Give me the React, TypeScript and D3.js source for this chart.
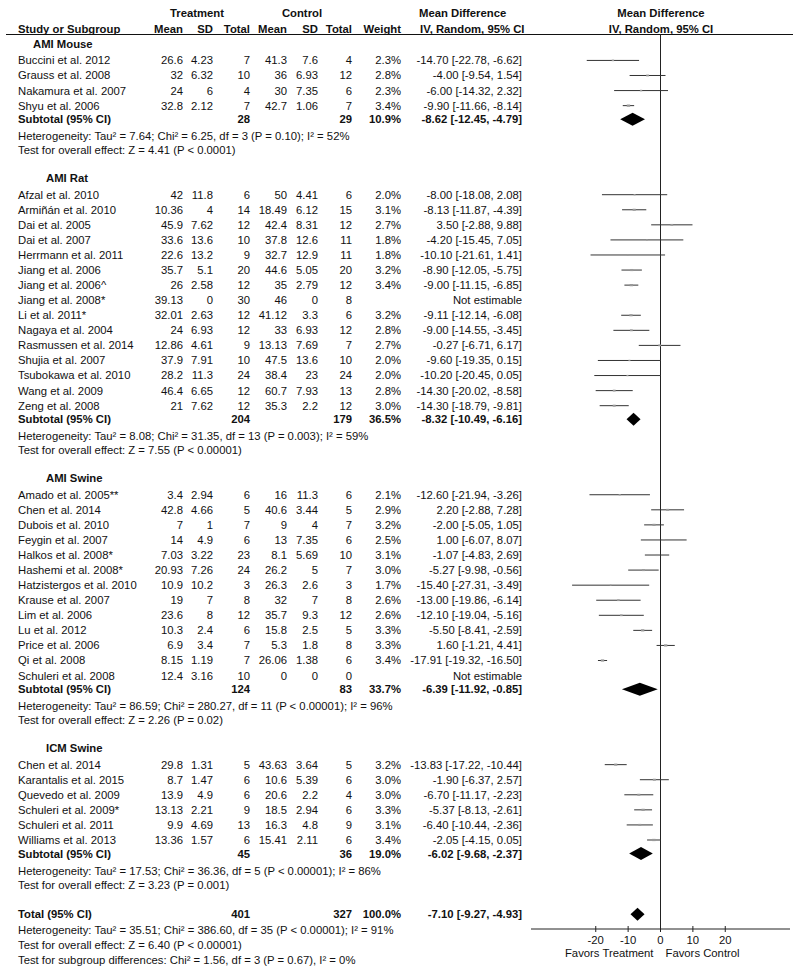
import React from 'react';
import * as d3 from 'd3';

// [study, treatment mean, sd, total, control mean, sd, total, weight %, md, lower, upper]
type Study = [string, number, number, number, number, number, number, number | null, number | null, number | null, number | null];
type Sub = [number, number, number, number, number, number];

const groupNames = ['AMI Mouse', 'AMI Rat', 'AMI Swine', 'ICM Swine'];

const amiMouse: Study[] = [
  ['Buccini et al. 2012', 26.6, 4.23, 7, 41.3, 7.6, 4, 2.3, -14.7, -22.78, -6.62],
  ['Grauss et al. 2008', 32, 6.32, 10, 36, 6.93, 12, 2.8, -4.0, -9.54, 1.54],
  ['Nakamura et al. 2007', 24, 6, 4, 30, 7.35, 6, 2.3, -6.0, -14.32, 2.32],
  ['Shyu et al. 2006', 32.8, 2.12, 7, 42.7, 1.06, 7, 3.4, -9.9, -11.66, -8.14],
];

const amiRat: Study[] = [
  ['Afzal et al. 2010', 42, 11.8, 6, 50, 4.41, 6, 2.0, -8.0, -18.08, 2.08],
  ['Armiñán et al. 2010', 10.36, 4, 14, 18.49, 6.12, 15, 3.1, -8.13, -11.87, -4.39],
  ['Dai et al. 2005', 45.9, 7.62, 12, 42.4, 8.31, 12, 2.7, 3.5, -2.88, 9.88],
  ['Dai et al. 2007', 33.6, 13.6, 10, 37.8, 12.6, 11, 1.8, -4.2, -15.45, 7.05],
  ['Herrmann et al. 2011', 22.6, 13.2, 9, 32.7, 12.9, 11, 1.8, -10.1, -21.61, 1.41],
  ['Jiang et al. 2006', 35.7, 5.1, 20, 44.6, 5.05, 20, 3.2, -8.9, -12.05, -5.75],
  ['Jiang et al. 2006^', 26, 2.58, 12, 35, 2.79, 12, 3.4, -9.0, -11.15, -6.85],
  ['Jiang et al. 2008*', 39.13, 0, 30, 46, 0, 8, null, null, null, null],
  ['Li et al. 2011*', 32.01, 2.63, 12, 41.12, 3.3, 6, 3.2, -9.11, -12.14, -6.08],
  ['Nagaya et al. 2004', 24, 6.93, 12, 33, 6.93, 12, 2.8, -9.0, -14.55, -3.45],
  ['Rasmussen et al. 2014', 12.86, 4.61, 9, 13.13, 7.69, 7, 2.7, -0.27, -6.71, 6.17],
  ['Shujia et al. 2007', 37.9, 7.91, 10, 47.5, 13.6, 10, 2.0, -9.6, -19.35, 0.15],
  ['Tsubokawa et al. 2010', 28.2, 11.3, 24, 38.4, 23, 24, 2.0, -10.2, -20.45, 0.05],
  ['Wang et al. 2009', 46.4, 6.65, 12, 60.7, 7.93, 13, 2.8, -14.3, -20.02, -8.58],
  ['Zeng et al. 2008', 21, 7.62, 12, 35.3, 2.2, 12, 3.0, -14.3, -18.79, -9.81],
];

const amiSwine: Study[] = [
  ['Amado et al. 2005**', 3.4, 2.94, 6, 16, 11.3, 6, 2.1, -12.6, -21.94, -3.26],
  ['Chen et al. 2014', 42.8, 4.66, 5, 40.6, 3.44, 5, 2.9, 2.2, -2.88, 7.28],
  ['Dubois et al. 2010', 7, 1, 7, 9, 4, 7, 3.2, -2.0, -5.05, 1.05],
  ['Feygin et al. 2007', 14, 4.9, 6, 13, 7.35, 6, 2.5, 1.0, -6.07, 8.07],
  ['Halkos et al. 2008*', 7.03, 3.22, 23, 8.1, 5.69, 10, 3.1, -1.07, -4.83, 2.69],
  ['Hashemi et al. 2008*', 20.93, 7.26, 24, 26.2, 5, 7, 3.0, -5.27, -9.98, -0.56],
  ['Hatzistergos et al. 2010', 10.9, 10.2, 3, 26.3, 2.6, 3, 1.7, -15.4, -27.31, -3.49],
  ['Krause et al. 2007', 19, 7, 8, 32, 7, 8, 2.6, -13.0, -19.86, -6.14],
  ['Lim et al. 2006', 23.6, 8, 12, 35.7, 9.3, 12, 2.6, -12.1, -19.04, -5.16],
  ['Lu et al. 2012', 10.3, 2.4, 6, 15.8, 2.5, 5, 3.3, -5.5, -8.41, -2.59],
  ['Price et al. 2006', 6.9, 3.4, 7, 5.3, 1.8, 8, 3.3, 1.6, -1.21, 4.41],
  ['Qi et al. 2008', 8.15, 1.19, 7, 26.06, 1.38, 6, 3.4, -17.91, -19.32, -16.5],
  ['Schuleri et al. 2008', 12.4, 3.16, 10, 0, 0, 0, null, null, null, null],
];

const icmSwine: Study[] = [
  ['Chen et al. 2014', 29.8, 1.31, 5, 43.63, 3.64, 5, 3.2, -13.83, -17.22, -10.44],
  ['Karantalis et al. 2015', 8.7, 1.47, 6, 10.6, 5.39, 6, 3.0, -1.9, -6.37, 2.57],
  ['Quevedo et al. 2009', 13.9, 4.9, 6, 20.6, 2.2, 4, 3.0, -6.7, -11.17, -2.23],
  ['Schuleri et al. 2009*', 13.13, 2.21, 9, 18.5, 2.94, 6, 3.3, -5.37, -8.13, -2.61],
  ['Schuleri et al. 2011', 9.9, 4.69, 13, 16.3, 4.8, 9, 3.1, -6.4, -10.44, -2.36],
  ['Williams et al. 2013', 13.36, 1.57, 6, 15.41, 2.11, 6, 3.4, -2.05, -4.15, 0.05],
];

const groupStudies = [amiMouse, amiRat, amiSwine, icmSwine];

// [treatment total, control total, weight, md, lower, upper]
const subtotals: Sub[] = [
  [28, 29, 10.9, -8.62, -12.45, -4.79],
  [204, 179, 36.5, -8.32, -10.49, -6.16],
  [124, 83, 33.7, -6.39, -11.92, -0.85],
  [45, 36, 19.0, -6.02, -9.68, -2.37],
];

const heterogeneity = [
  'Heterogeneity: Tau² = 7.64; Chi² = 6.25, df = 3 (P = 0.10); I² = 52%',
  'Heterogeneity: Tau² = 8.08; Chi² = 31.35, df = 13 (P = 0.003); I² = 59%',
  'Heterogeneity: Tau² = 86.59; Chi² = 280.27, df = 11 (P < 0.00001); I² = 96%',
  'Heterogeneity: Tau² = 17.53; Chi² = 36.36, df = 5 (P < 0.00001); I² = 86%',
];

const overallEffect = [
  'Test for overall effect: Z = 4.41 (P < 0.0001)',
  'Test for overall effect: Z = 7.55 (P < 0.00001)',
  'Test for overall effect: Z = 2.26 (P = 0.02)',
  'Test for overall effect: Z = 3.23 (P = 0.001)',
];

const total: Sub = [401, 327, 100.0, -7.1, -9.27, -4.93];
const totalNotes = [
  'Heterogeneity: Tau² = 35.51; Chi² = 386.60, df = 35 (P < 0.00001); I² = 91%',
  'Test for overall effect: Z = 6.40 (P < 0.00001)',
  'Test for subgroup differences: Chi² = 1.56, df = 3 (P = 0.67), I² = 0%',
];

const xTicks = [-20, -10, 0, 10, 20];

const W = 800;
const H = 976;
const FONT = '"Liberation Sans", Arial, Helvetica, sans-serif';
const FS = 11.3;

// column right edges
const col = { tMean: 183, tSD: 213, tN: 250, cMean: 287, cSD: 318, cN: 352, weight: 401, ci: 522 };

type Line =
  | { kind: 'label'; y: number; text: string; x: number }
  | { kind: 'study'; y: number; s: Study }
  | { kind: 'sub'; y: number; label: string; s: Sub }
  | { kind: 'note'; y: number; text: string };

const fmt = (v: number) => v.toFixed(2);
const ciText = (md: number, lo: number, hi: number) => `${fmt(md)} [${fmt(lo)}, ${fmt(hi)}]`;

const App = () => {
  const x = d3.scaleLinear().domain([-40, 40]).range([531, 790]);
  const row = d3.scaleLinear().domain([0, 1]).range([44, 44 + 15.07]);

  // build the rows, position in row units
  const lines: Line[] = [];
  let u = 0;
  groupStudies.forEach((studies, gi) => {
    if (gi > 0) u += 1.86;
    lines.push({ kind: 'label', y: row(u), text: groupNames[gi], x: gi === 0 ? 33 : 46 });
    u += 1.09;
    studies.forEach((s, i) => {
      if (i > 0) u += 1;
      lines.push({ kind: 'study', y: row(u), s });
    });
    u += 0.9;
    lines.push({ kind: 'sub', y: row(u), label: 'Subtotal (95% CI)', s: subtotals[gi] });
    u += 1.13;
    lines.push({ kind: 'note', y: row(u), text: heterogeneity[gi] });
    u += 0.93;
    lines.push({ kind: 'note', y: row(u), text: overallEffect[gi] });
  });
  u += 1.97;
  lines.push({ kind: 'sub', y: row(u), label: 'Total (95% CI)', s: total });
  totalNotes.forEach((t) => {
    u += 1.02;
    lines.push({ kind: 'note', y: row(u), text: t });
  });

  const axisY = 929;
  const headerY = 34.5;

  const num = (xr: number, y: number, v: string | number, bold = false, key?: string) => (
    <text key={key} x={xr} y={y} dy="0.35em" textAnchor="end" fontWeight={bold ? 'bold' : 'normal'}>
      {v}
    </text>
  );

  return (
    <svg width={W} height={H} style={{ position: 'absolute', left: 0, top: 0, background: '#fff' }}
      fontFamily={FONT} fontSize={FS} fill="#111">
      {/* header */}
      <g fontWeight="bold">
        <text x={197} y={13} dy="0.35em" textAnchor="middle">Treatment</text>
        <text x={302} y={13} dy="0.35em" textAnchor="middle">Control</text>
        <text x={419} y={13} dy="0.35em">Mean Difference</text>
        <text x={661} y={13} dy="0.35em" textAnchor="middle">Mean Difference</text>
        <text x={18} y={28.7} dy="0.35em">Study or Subgroup</text>
        {num(col.tMean, 28.7, 'Mean', true)}
        {num(col.tSD, 28.7, 'SD', true)}
        {num(col.tN, 28.7, 'Total', true)}
        {num(col.cMean, 28.7, 'Mean', true)}
        {num(col.cSD, 28.7, 'SD', true)}
        {num(col.cN, 28.7, 'Total', true)}
        {num(col.weight, 28.7, 'Weight', true)}
        <text x={420} y={28.7} dy="0.35em">IV, Random, 95% CI</text>
        <text x={661} y={28.7} dy="0.35em" textAnchor="middle">IV, Random, 95% CI</text>
      </g>
      <line x1={6} x2={793} y1={headerY} y2={headerY} stroke="#111" strokeWidth={1.2} />

      {/* zero line */}
      <line x1={x(0)} x2={x(0)} y1={headerY} y2={axisY} stroke="#222" strokeWidth={1} />

      {lines.map((l, i) => {
        if (l.kind === 'label') {
          return <text key={i} x={l.x} y={l.y} dy="0.35em" fontWeight="bold">{l.text}</text>;
        }
        if (l.kind === 'note') {
          return <text key={i} x={18} y={l.y} dy="0.35em">{l.text}</text>;
        }
        if (l.kind === 'sub') {
          const [tn, cn, w, md, lo, hi] = l.s;
          const h = 6.5;
          const pts = [[x(lo), l.y], [x(md), l.y - h], [x(hi), l.y], [x(md), l.y + h]];
          return (
            <g key={i} fontWeight="bold">
              <text x={18} y={l.y} dy="0.35em">{l.label}</text>
              {num(col.tN, l.y, tn, true)}
              {num(col.cN, l.y, cn, true)}
              {num(col.weight, l.y, w.toFixed(1) + '%', true)}
              {num(col.ci, l.y, ciText(md, lo, hi), true)}
              <polygon points={pts.map((p) => p.join(',')).join(' ')} fill="#000" />
            </g>
          );
        }
        const [name, tm, tsd, tn, cm, csd, cn, w, md, lo, hi] = l.s;
        return (
          <g key={i}>
            <text x={18} y={l.y} dy="0.35em">{name}</text>
            {num(col.tMean, l.y, String(tm))}
            {num(col.tSD, l.y, String(tsd))}
            {num(col.tN, l.y, String(tn))}
            {num(col.cMean, l.y, String(cm))}
            {num(col.cSD, l.y, String(csd))}
            {num(col.cN, l.y, String(cn))}
            {w !== null && num(col.weight, l.y, w.toFixed(1) + '%')}
            {md !== null && lo !== null && hi !== null ? (
              <>
                {num(col.ci, l.y, ciText(md, lo, hi))}
                <line x1={x(lo)} x2={x(hi)} y1={l.y} y2={l.y} stroke="#333" strokeWidth={1} />
                <rect x={x(md) - (w as number) / 2} y={l.y - (w as number) / 3} width={w as number}
                  height={(w as number) * 0.66} fill="#999" />
              </>
            ) : (
              num(col.ci, l.y, 'Not estimable')
            )}
          </g>
        );
      })}

      {/* axis */}
      <line x1={x(-40)} x2={x(40)} y1={axisY} y2={axisY} stroke="#222" strokeWidth={1} />
      {xTicks.map((t) => (
        <g key={t}>
          <line x1={x(t)} x2={x(t)} y1={axisY - 3} y2={axisY + 3} stroke="#222" strokeWidth={1} />
          <text x={x(t)} y={axisY + 11} dy="0.35em" textAnchor="middle">{t}</text>
        </g>
      ))}
      <text x={x(0) - 7} y={axisY + 24} dy="0.35em" textAnchor="end">Favors Treatment</text>
      <text x={x(0) + 5} y={axisY + 24} dy="0.35em">Favors Control</text>
    </svg>
  );
};

export default App;
